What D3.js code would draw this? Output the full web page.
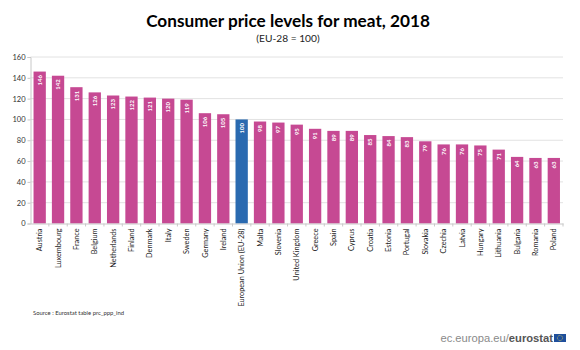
<!DOCTYPE html>
<html>
<head>
<meta charset="utf-8">
<script src="https://cdn.jsdelivr.net/npm/d3@7"></script>
<style>
  html, body { margin: 0; padding: 0; background: #fff; }
  text { font-family: Lato, "Open Sans", sans-serif; }
</style>
</head>
<body>
<svg id="chart" width="580" height="350"></svg>
<script>
// Values
const countries = ["Austria", "Luxembourg", "France", "Belgium", "Netherlands", "Finland", "Denmark", "Italy", "Sweden", "Germany", "Ireland", "European Union (EU-28)", "Malta", "Slovenia", "United Kingdom", "Greece", "Spain", "Cyprus", "Croatia", "Estonia", "Portugal", "Slovakia", "Czechia", "Latvia", "Hungary", "Lithuania", "Bulgaria", "Romania", "Poland"];
const levels = [146, 142, 131, 126, 123, 122, 121, 120, 119, 106, 105, 100, 98, 97, 95, 91, 89, 89, 85, 84, 83, 79, 76, 76, 75, 71, 64, 63, 63];
const yTicks = [0, 20, 40, 60, 80, 100, 120, 140, 160];

const svg = d3.select("#chart");

const xScale = d3.scaleBand()
    .domain(countries)
    .range([30.5, 563])
    .paddingInner(0.33)
    .paddingOuter(0.165);

const yScale = d3.scaleLinear()
    .domain([0, 160])
    .range([223.5, 57]);

// Gridlines
svg.append("g")
    .selectAll("line")
    .data(yTicks.filter(d => d > 0))
    .enter()
    .append("line")
    .attr("x1", 30.5)
    .attr("x2", 563)
    .attr("y1", d => yScale(d))
    .attr("y2", d => yScale(d))
    .attr("stroke", "#e2e2e2")
    .attr("stroke-width", 1);

// Bars
svg.append("g")
    .selectAll("rect")
    .data(countries)
    .enter()
    .append("rect")
    .attr("x", d => xScale(d))
    .attr("y", (d, i) => yScale(levels[i]))
    .attr("width", xScale.bandwidth())
    .attr("height", (d, i) => yScale(0) - yScale(levels[i]))
    .attr("fill", d => d.startsWith("European") ? "#2a6ab0" : "#c64993");

// Value labels inside the bars
svg.append("g")
    .selectAll("text")
    .data(countries)
    .enter()
    .append("text")
    .attr("transform", (d, i) => `translate(${xScale(d) + xScale.bandwidth() / 2},${yScale(levels[i]) + 3.5}) rotate(-90)`)
    .attr("text-anchor", "end")
    .attr("dy", "0.35em")
    .attr("font-size", 6)
    .attr("font-weight", 700)
    .attr("fill", "#fff")
    .text((d, i) => levels[i]);

// Y axis
const yAxis = svg.append("g")
    .attr("transform", "translate(30.5,0)")
    .call(d3.axisLeft(yScale).tickValues(yTicks).tickSize(3).tickPadding(2));
yAxis.select(".domain").attr("stroke", "#c8c8c8");
yAxis.selectAll(".tick line").attr("stroke", "#c8c8c8");
yAxis.selectAll("text").attr("font-size", 7.5).attr("fill", "#333").style("font-family", "Lato, sans-serif");

// X axis, ticks sit between the bars
const xAxis = svg.append("g")
    .attr("transform", "translate(0,223.5)")
    .call(d3.axisBottom(xScale).tickSize(0).tickPadding(0));
xAxis.select(".domain").attr("stroke", "#c8c8c8");
xAxis.selectAll(".tick text")
    .attr("transform", "translate(0,5) rotate(-90)")
    .attr("text-anchor", "end")
    .attr("x", 0)
    .attr("y", 0)
    .attr("dy", "0.35em")
    .attr("font-size", 7.3)
    .attr("fill", "#222")
    .style("font-family", "Lato, sans-serif");

svg.append("g")
    .selectAll("line")
    .data(countries)
    .enter()
    .append("line")
    .attr("x1", d => xScale(d) + xScale.step() * 0.835)
    .attr("x2", d => xScale(d) + xScale.step() * 0.835)
    .attr("y1", 223.5)
    .attr("y2", 226.5)
    .attr("stroke", "#c8c8c8");

// Titles
svg.append("text")
    .attr("x", 288)
    .attr("y", 26.5)
    .attr("text-anchor", "middle")
    .attr("font-size", 17.2)
    .attr("font-weight", 700)
    .attr("fill", "#000")
    .text("Consumer price levels for meat, 2018");

svg.append("text")
    .attr("x", 288)
    .attr("y", 41.5)
    .attr("text-anchor", "middle")
    .attr("font-size", 10.2)
    .attr("fill", "#222")
    .text("(EU-28 = 100)");

// Source
svg.append("text")
    .attr("x", 33)
    .attr("y", 315)
    .attr("font-size", 5.9)
    .attr("fill", "#333")
    .text("Source : Eurostat table prc_ppp_ind");

// Eurostat mark
const mark = svg.append("text")
    .attr("x", 553)
    .attr("y", 342)
    .attr("text-anchor", "end")
    .attr("font-size", 11.2)
    .attr("fill", "#8a8a8a")
    .style("font-family", "Liberation Sans, sans-serif");
mark.append("tspan").text("ec.europa.eu/");
mark.append("tspan").attr("font-weight", 700).attr("fill", "#555").text("eurostat");

// EU flag
svg.append("rect")
    .attr("x", 554)
    .attr("y", 334)
    .attr("width", 12)
    .attr("height", 8)
    .attr("fill", "#1f4f9c");
svg.append("circle")
    .attr("cx", 560)
    .attr("cy", 338)
    .attr("r", 2.6)
    .attr("fill", "none")
    .attr("stroke", "#e8d24a")
    .attr("stroke-width", 0.7)
    .attr("stroke-dasharray", "0.8 0.6");
</script>
</body>
</html>
